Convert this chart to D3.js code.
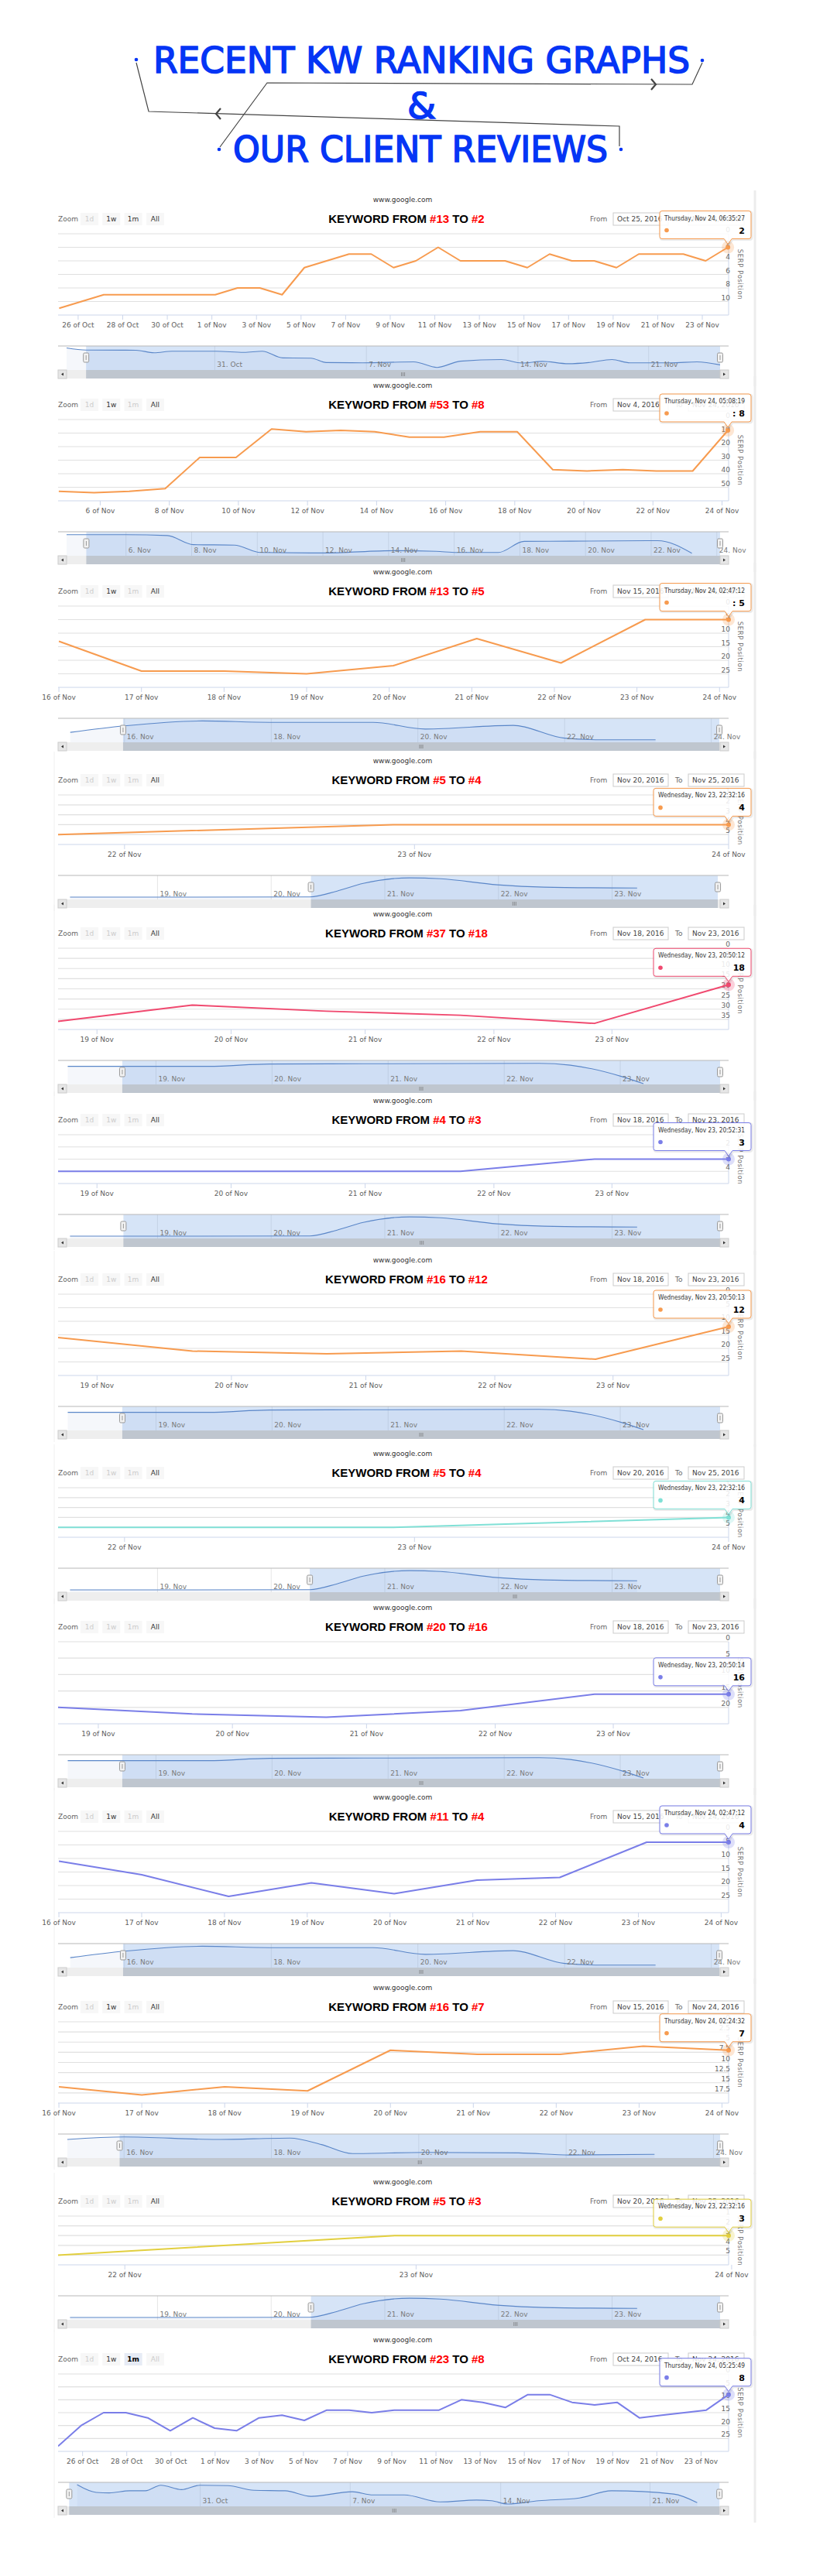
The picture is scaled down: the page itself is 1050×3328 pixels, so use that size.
<!DOCTYPE html>
<html>
<head>
<meta charset="utf-8">
<script src="https://cdn.jsdelivr.net/npm/d3@7"></script>
<style>
  body { margin: 0; background: #fff; }
  svg text { font-family: "DejaVu Sans", sans-serif; }
</style>
</head>
<body>
<div id="chart"></div>
<script>
// ---------------- data ----------------
// keyword rank moves shown in each panel title
var kwFrom = [13, 53, 13, 5, 37, 4, 16, 5, 20, 11, 16, 5, 23];
var kwTo   = [2, 8, 5, 4, 18, 3, 12, 4, 16, 4, 7, 3, 8];

// x values are "day of November" (31 Oct = 0, 25 Oct = -6)
var p1Days  = [-5.85,-4.85,-3.85,-2.85,-1.85,-0.85,0.15,1.15,2.15,3.15,4.15,5.15,6.15,7.15,8.15,9.15,10.15,11.15,12.15,13.15,14.15,15.15,16.15,17.15,18.15,19.15,20.15,21.15,22.15,23.15,24.15];
var p1Ranks = [11,10,9,9,9,9,9,9,8,8,9,5,4,3,3,5,4,2,4,4,4,5,3,4,4,5,3,3,3,4,2];
var p2Days  = [4.8,5.82,6.84,7.88,8.88,9.93,10.96,11.96,12.96,13.95,14.95,15.95,17.0,18.07,19.1,20.09,21.13,22.1,23.15,24.17];
var p2Ranks = [53,54,53,51,28,28,7,9,8,9,13,13,9,9,37,38,37,38,38,8];
var p3Days  = [16.0,17.0,18.0,19.0,20.05,21.06,22.08,23.1,24.11];
var p3Ranks = [13,24,24,25,22,12,21,5,5];
var p4Days  = [21.78,22.89,24.0];
var p4Ranks = [5,4,4];
var p5Days  = [18.71,19.71,20.71,21.71,22.71,23.71];
var p5Ranks = [36,28,31,33,37,18];
var p6Days  = [18.71,19.71,20.71,21.71,22.71,23.71];
var p6Ranks = [4,4,4,4,3,3];
var p7Days  = [18.71,19.71,20.71,21.71,22.71,23.7];
var p7Ranks = [16,21,22,21,24,12];
var p8Days  = [21.78,22.89,24.0];
var p8Ranks = [5,5,4];
var p9Days  = [18.7,19.7,20.7,21.7,22.7,23.7];
var p9Ranks = [20,22,23,21,16,16];
var p10Days  = [16.0,17.0,18.05,19.05,20.05,21.05,22.05,23.1,24.09];
var p10Ranks = [11,16,24,19,23,18,17,4,4];
var p11Days  = [16.0,17.0,18.0,19.0,20.0,21.05,22.05,23.05,24.08];
var p11Ranks = [16,18,16,17,7,8,8,6,7];
var p12Days  = [21.78,22.89,23.99];
var p12Ranks = [5,3,3];
var p13Days  = [-6.11,-5.07,-4.05,-3.04,-2.05,-1.03,-0.01,0.98,1.97,2.99,4.03,5.04,6.06,7.07,8.09,9.11,10.12,11.14,12.15,13.12,14.14,15.16,16.15,17.16,18.18,19.2,20.21,21.23,22.24,23.24,24.25];
var p13Ranks = [28,20,15,15,17,22,17,21,22,17,16,18,14,14,15,14,14,14,10,11,13,8,8,11,12,11,17,16,15,14,8];

// visible x range of each main plot (days)
var xDomains = [[-5.9,24.18],[4.78,24.19],[15.99,24.11],[21.78,24.0],[18.71,23.71],[18.71,23.71],[18.71,23.7],[21.78,24.0],[18.7,23.7],[15.99,24.09],[15.99,24.08],[21.78,23.99],[-6.11,24.25]];
// y axis (SERP position, reversed)
var yMins  = [0,0,0,1,0,1,0,1,0,0,0,1,0];
var yMaxs  = [12,60,30,6,40,5,30,6,25,30,20,6,30];
var ySteps = [2,10,5,1,5,1,5,1,5,5,2.5,1,5];

// x axis tick labels
var tickOctNov = [-5,-3,-1,1,3,5,7,9,11,13,15,17,19,21,23];
var labOctNov  = ["26 of Oct","28 of Oct","30 of Oct","1 of Nov","3 of Nov","5 of Nov","7 of Nov","9 of Nov","11 of Nov","13 of Nov","15 of Nov","17 of Nov","19 of Nov","21 of Nov","23 of Nov"];
var tickNov6   = [6,8,10,12,14,16,18,20,22,24];
var labNov6    = ["6 of Nov","8 of Nov","10 of Nov","12 of Nov","14 of Nov","16 of Nov","18 of Nov","20 of Nov","22 of Nov","24 of Nov"];
var tickNov16  = [16,17,18,19,20,21,22,23,24];
var labNov16   = ["16 of Nov","17 of Nov","18 of Nov","19 of Nov","20 of Nov","21 of Nov","22 of Nov","23 of Nov","24 of Nov"];
var tickNov19  = [19,20,21,21.96,22.84];
var labNov19   = ["19 of Nov","20 of Nov","21 of Nov","22 of Nov","23 of Nov"];
var tickNov22  = [22,22.96,24];
var labNov22   = ["22 of Nov","23 of Nov","24 of Nov"];

// navigator series (relative height 0-10 inside the navigator)
var navP1Days = [-6.84,-5.94,-3.63,-2.8,-1.97,0.05,1.35,2.19,3.14,4.44,5.15,6.82,9.19,10.26,11.33,13.23,14.18,15.13,16.32,17.27,18.34,19.17,21.07,22.26,23.33];
var navP1Vals = [9.5,8.6,8.5,7.4,8.1,8.1,7.6,8.1,5.2,5.1,3.2,3.1,3.5,1.1,3.8,4.5,3.0,3.7,2.7,3.2,4.5,3.1,3.1,3.5,2.2];
var navP2Days = [4.19,6,7.26,8.05,9.3,10.1,12,14.2,15.45,16.08,17.34,18.13,19.54,22.2,23.24];
var navP2Vals = [9.1,9.1,8.7,4.8,4.6,1.4,1.2,2.2,1.9,1.4,1.4,6.2,6.3,6.5,1.1];
var navADays = [18.23,19.0,20.34,20.58,20.81,21.22,21.49,21.99,22.4,23.22];
var navAVals = [1.0,1.0,1.1,3.6,6.9,9.3,8.9,6.3,5.3,4.9];
var navBDays = [18.24,19.45,19.98,20.79,22.3,22.57,23.02,23.2];
var navBVals = [7.8,7.8,8.8,8.9,9.1,8.3,3.3,0.3];
var navCDays = [15.26,16.0,17.06,17.98,19.39,20.1,21.3,22.0,22.5,23.24];
var navCVals = [4.3,7.1,9.2,8.6,8.6,5.7,7.3,1.8,1.1,1.1];
var navDDays = [15.23,16.0,17.27,18.25,18.68,19.1,20.08,21.35,22.05,23.2];
var navDVals = [8.0,9.1,8.0,8.6,5.8,1.9,2.4,2.2,1.3,1.6];
var navP13Days = [-5.75,-4.86,-4.25,-3.29,-2.56,-1.84,-0.87,-0.02,1.3,2.51,3.96,5.17,7.1,8.07,9.52,11.2,12.9,13.6,14.35,15.8,17.7,19.2,22.1,23.2];
var navP13Vals = [9.3,6.0,5.8,6.7,6.7,9.1,7.2,9.1,8.9,6.9,6.7,4.3,6.3,4.9,4.9,1.9,2.7,2.4,1.0,2.4,3.6,6.7,5.3,1.6];

var navDomains = [[-6.84,23.33],[4.19,24.1],[15.21,24.12],[18.2,23.95],[18.23,23.86],[18.2,23.95],[18.23,23.86],[18.2,23.95],[18.23,23.86],[15.21,24.12],[15.22,24.09],[18.2,23.95],[-6.24,24.27]];
var navSelections = [[-5.94,23.33],[4.79,24.1],[15.98,24.11],[20.35,23.93],[18.71,23.86],[18.7,23.95],[18.71,23.86],[20.34,23.95],[18.71,23.86],[15.98,24.11],[15.94,24.09],[20.35,23.95],[-6.12,24.24]];
var navTickP1 = [0,7,14,20.03],  navLabP1 = ["31. Oct","7. Nov","14. Nov","21. Nov"];
var navTickP2 = [6,8,10,12,14,16,18,20,22,24], navLabP2 = ["6. Nov","8. Nov","10. Nov","12. Nov","14. Nov","16. Nov","18. Nov","20. Nov","22. Nov","24. Nov"];
var navTick19 = [19,20,21,22,23], navLab19 = ["19. Nov","20. Nov","21. Nov","22. Nov","23. Nov"];
var navTick16 = [16,18,20,22,24], navLab16 = ["16. Nov","18. Nov","20. Nov","22. Nov","24. Nov"];
var navTickP13 = [0,7,14.03,21], navLabP13 = ["31. Oct","7. Nov","14. Nov","21. Nov"];

// range selector texts
var fromDates = ["Oct 25, 2016","Nov 4, 2016","Nov 15, 2016","Nov 20, 2016","Nov 18, 2016","Nov 18, 2016","Nov 18, 2016","Nov 20, 2016","Nov 18, 2016","Nov 15, 2016","Nov 15, 2016","Nov 20, 2016","Oct 24, 2016"];
var toDates   = ["Nov 24, 2016","Nov 24, 2016","Nov 24, 2016","Nov 25, 2016","Nov 23, 2016","Nov 23, 2016","Nov 23, 2016","Nov 25, 2016","Nov 23, 2016","Nov 24, 2016","Nov 24, 2016","Nov 25, 2016","Nov 24, 2016"];
var tipDates  = ["Thursday, Nov 24, 06:35:27","Thursday, Nov 24, 05:08:19","Thursday, Nov 24, 02:47:12","Wednesday, Nov 23, 22:32:16","Wednesday, Nov 23, 20:50:12","Wednesday, Nov 23, 20:52:31","Wednesday, Nov 23, 20:50:13","Wednesday, Nov 23, 22:32:16","Wednesday, Nov 23, 20:50:14","Thursday, Nov 24, 02:47:12","Thursday, Nov 24, 02:24:32","Wednesday, Nov 23, 22:32:16","Thursday, Nov 24, 05:25:49"];
var tipColon  = ["", ": ", ": ", "", "", "", "", "", "", "", "", "", ""];
var btnLabels = ["1d","1w","1m","All"];
// 0 = normal, 1 = disabled, 2 = selected
var btnStates = [[1,0,0,0],[1,0,1,0],[1,0,1,0],[1,1,1,0],[1,1,1,0],[1,1,1,0],[1,1,1,0],[1,1,1,0],[1,1,1,0],[1,0,1,0],[1,0,1,0],[1,1,1,0],[1,0,2,1]];

var orange = "#f79b4f", violet = "#7a7ee8";
var seriesColors = [orange, orange, orange, orange, "#f0496f", violet, orange, "#80e0d6", violet, violet, orange, "#e2cf3f", violet];

// ---------------- layout ----------------
var svgWidth = 1050, svgHeight = 3328;
var panelTop = [302, 542, 783, 1027, 1225, 1466, 1672, 1922, 2121, 2366, 2612, 2863, 3067];
var plotH    = [105, 105, 105, 64, 105, 63, 105, 64, 106, 105, 105, 63, 100];
var plotL = 75, plotR = 941;

// build the panel table from the arrays above
var allDays  = [p1Days,p2Days,p3Days,p4Days,p5Days,p6Days,p7Days,p8Days,p9Days,p10Days,p11Days,p12Days,p13Days];
var allRanks = [p1Ranks,p2Ranks,p3Ranks,p4Ranks,p5Ranks,p6Ranks,p7Ranks,p8Ranks,p9Ranks,p10Ranks,p11Ranks,p12Ranks,p13Ranks];
var allTicks = [tickOctNov,tickNov6,tickNov16,tickNov22,tickNov19,tickNov19,tickNov19,tickNov22,tickNov19,tickNov16,tickNov16,tickNov22,tickOctNov];
var allLabs  = [labOctNov,labNov6,labNov16,labNov22,labNov19,labNov19,labNov19,labNov22,labNov19,labNov16,labNov16,labNov22,labOctNov];
var allNavDays = [navP1Days,navP2Days,navCDays,navADays,navBDays,navADays,navBDays,navADays,navBDays,navCDays,navDDays,navADays,navP13Days];
var allNavVals = [navP1Vals,navP2Vals,navCVals,navAVals,navBVals,navAVals,navBVals,navAVals,navBVals,navCVals,navDVals,navAVals,navP13Vals];
var allNavTicks = [navTickP1,navTickP2,navTick16,navTick19,navTick19,navTick19,navTick19,navTick19,navTick19,navTick16,navTick16,navTick19,navTickP13];
var allNavLabs  = [navLabP1,navLabP2,navLab16,navLab19,navLab19,navLab19,navLab19,navLab19,navLab19,navLab16,navLab16,navLab19,navLabP13];

var panels = kwFrom.map(function(f, i) {
  return {
    from: f, to: kwTo[i], color: seriesColors[i],
    points: allDays[i].map(function(d, k) { return [d, allRanks[i][k]]; }),
    xDomain: xDomains[i], yMin: yMins[i], yMax: yMaxs[i], yStep: ySteps[i],
    ticks: allTicks[i], tickLabels: allLabs[i],
    nav: allNavDays[i].map(function(d, k) { return [d, allNavVals[i][k]]; }),
    navDomain: navDomains[i], navSel: navSelections[i],
    navTicks: allNavTicks[i], navLabels: allNavLabs[i],
    fromDate: fromDates[i], toDate: toDates[i], tip: tipDates[i], colon: tipColon[i],
    buttons: btnStates[i]
  };
});

// ---------------- svg ----------------
var svg = d3.select("#chart")
  .append("svg")
  .attr("width", svgWidth)
  .attr("height", svgHeight);

svg.append("rect")
  .attr("width", svgWidth)
  .attr("height", svgHeight)
  .attr("fill", "#ffffff");

// ---------------- header ----------------
var headBlue = "#0535f5";

function headText(txt, x, y, len) {
  svg.append("text")
    .attr("x", x)
    .attr("y", y)
    .attr("font-size", 46)
    .attr("fill", headBlue)
    .attr("stroke", headBlue)
    .attr("stroke-width", 1.6)
    .attr("textLength", len)
    .attr("lengthAdjust", "spacingAndGlyphs")
    .text(txt);
}
headText("RECENT KW RANKING GRAPHS", 198, 94, 693);
headText("&", 526, 153, 37);
headText("OUR CLIENT REVIEWS", 301, 209, 484);

svg.append("path")
  .attr("d", "M176,81 L192,144 L800,163 L800,189")
  .attr("fill", "none").attr("stroke", "#444").attr("stroke-width", 1.2);
svg.append("path")
  .attr("d", "M907,81 L894,109 L345,107 L284,190")
  .attr("fill", "none").attr("stroke", "#444").attr("stroke-width", 1.2);
// arrow heads
svg.append("path")
  .attr("d", "M841,102 L847,109 L841,116")
  .attr("fill", "none").attr("stroke", "#444").attr("stroke-width", 2.2);
svg.append("path")
  .attr("d", "M285,140 L279,147 L285,154")
  .attr("fill", "none").attr("stroke", "#444").attr("stroke-width", 2.2);

[[176,77],[907,78],[283,193],[802,193]].forEach(function(c) {
  svg.append("circle").attr("cx", c[0]).attr("cy", c[1]).attr("r", 2.3).attr("fill", headBlue);
});

// ---------------- one stock chart panel ----------------
function drawPanel(p, i) {
  var T = panelTop[i], H = plotH[i], B = T + H;
  var L = plotL, R = plotR;
  var g = svg.append("g");

  // frame of the screenshot
  g.append("line")
    .attr("x1", 975).attr("x2", 975)
    .attr("y1", T - 56).attr("y2", B + 92)
    .attr("stroke", "#ececec").attr("stroke-width", 3);
  if (i >= 3) {
    g.append("line")
      .attr("x1", 70).attr("x2", 70)
      .attr("y1", T - 56).attr("y2", B + 86)
      .attr("stroke", "#f0f0f0").attr("stroke-width", 1);
  }

  g.append("text")
    .attr("x", 520).attr("y", T - 41)
    .attr("text-anchor", "middle")
    .attr("font-size", 9).attr("fill", "#333")
    .text("www.google.com");

  // range selector buttons
  var rowY = T - 19;
  g.append("text")
    .attr("x", L).attr("y", rowY + 3)
    .attr("font-size", 9).attr("fill", "#666")
    .text("Zoom");
  btnLabels.forEach(function(b, k) {
    var bx = L + 29 + k * 28.3, st = p.buttons[k];
    g.append("rect")
      .attr("x", bx).attr("y", rowY - 8)
      .attr("width", 23).attr("height", 16)
      .attr("fill", st === 2 ? "#e6ebf5" : "#f7f7f7");
    g.append("text")
      .attr("x", bx + 11.5).attr("y", rowY + 3)
      .attr("text-anchor", "middle")
      .attr("font-size", 9)
      .attr("font-weight", st === 2 ? "bold" : "normal")
      .attr("fill", st === 1 ? "#cccccc" : (st === 2 ? "#000" : "#333"))
      .text(b);
  });

  // from / to inputs
  g.append("text").attr("x", 762).attr("y", rowY + 3)
    .attr("font-size", 9).attr("fill", "#666").text("From");
  g.append("rect").attr("x", 792).attr("y", rowY - 8)
    .attr("width", 71).attr("height", 16)
    .attr("fill", "#fff").attr("stroke", "#cccccc");
  g.append("text").attr("x", 797).attr("y", rowY + 3)
    .attr("font-size", 9).attr("fill", "#444").text(p.fromDate);
  g.append("text").attr("x", 872).attr("y", rowY + 3)
    .attr("font-size", 9).attr("fill", "#666").text("To");
  g.append("rect").attr("x", 889).attr("y", rowY - 8)
    .attr("width", 72).attr("height", 16)
    .attr("fill", "#fff").attr("stroke", "#cccccc");
  g.append("text").attr("x", 894).attr("y", rowY + 3)
    .attr("font-size", 9).attr("fill", "#444").text(p.toDate);

  // title
  var title = g.append("text")
    .attr("x", 525).attr("y", rowY + 5)
    .attr("text-anchor", "middle")
    .style("font-family", "'Liberation Sans', Arial, sans-serif")
    .attr("font-weight", "bold")
    .attr("font-size", 15)
    .attr("fill", "#000");
  title.append("tspan").text("KEYWORD FROM ");
  title.append("tspan").attr("fill", "#ff0000").text("#" + p.from);
  title.append("tspan").text(" TO ");
  title.append("tspan").attr("fill", "#ff0000").text("#" + p.to);

  // scales
  var x = d3.scaleLinear().domain(p.xDomain).range([L, R]);
  var y = d3.scaleLinear().domain([p.yMin, p.yMax]).range([T, B]);
  var yTicks = d3.range(p.yMin, p.yMax + 1e-9, p.yStep);

  // grid lines
  g.selectAll(".grid")
    .data(yTicks.slice(0, -1))
    .enter()
    .append("line")
    .attr("x1", L).attr("x2", R)
    .attr("y1", d => y(d)).attr("y2", d => y(d))
    .attr("stroke", "#e0e0e0").attr("stroke-width", 1.2);

  // axes lines
  g.append("line").attr("x1", L).attr("x2", R).attr("y1", B).attr("y2", B)
    .attr("stroke", "#ccd6eb");
  g.append("line").attr("x1", R).attr("x2", R).attr("y1", T).attr("y2", B)
    .attr("stroke", "#ccd6eb");

  // y labels on the right, sitting on the grid lines
  g.selectAll(".ylab")
    .data(yTicks.slice(0, -1))
    .enter()
    .append("text")
    .attr("x", R + 2)
    .attr("y", d => y(d) - 2)
    .attr("text-anchor", "end")
    .attr("font-size", 9)
    .attr("fill", "#666")
    .text(d => String(d));

  // x ticks and labels
  p.ticks.forEach(function(t, k) {
    g.append("line")
      .attr("x1", x(t)).attr("x2", x(t))
      .attr("y1", B).attr("y2", B + 6)
      .attr("stroke", "#ccd6eb");
    g.append("text")
      .attr("x", x(t)).attr("y", B + 16)
      .attr("text-anchor", "middle")
      .attr("font-size", 9)
      .attr("fill", "#606060")
      .text(p.tickLabels[k]);
  });

  // axis title
  g.append("text")
    .attr("transform", "translate(" + 953 + "," + ((T + B) / 2) + ") rotate(90)")
    .attr("text-anchor", "middle")
    .attr("font-size", 8.5)
    .attr("letter-spacing", 0.6)
    .attr("fill", "#777")
    .text("SERP Position");

  // series line
  var clipId = "clip" + i;
  svg.append("clipPath").attr("id", clipId)
    .append("rect")
    .attr("x", L).attr("y", T - 6)
    .attr("width", R - L + 1).attr("height", H + 6);

  var line = d3.line()
    .x(d => x(d[0]))
    .y(d => y(d[1]));

  g.append("path")
    .datum(p.points)
    .attr("clip-path", "url(#" + clipId + ")")
    .attr("d", line)
    .attr("fill", "none")
    .attr("stroke", p.color)
    .attr("stroke-width", 2)
    .attr("stroke-linejoin", "round");

  // hovered last point
  var last = p.points[p.points.length - 1];
  var px = x(last[0]), py = y(last[1]);
  g.append("circle").attr("cx", px).attr("cy", py).attr("r", 8)
    .attr("fill", p.color).attr("opacity", 0.25);
  g.append("circle").attr("cx", px).attr("cy", py).attr("r", 3)
    .attr("fill", p.color);

  // ---------- navigator ----------
  var nT = B + 40, nH = 31;
  var nx = d3.scaleLinear().domain(p.navDomain).range([L + 11, R - 11]);
  var ny = d3.scaleLinear().domain([0, 10]).range([nT + nH, nT + 1]);

  g.selectAll(".navgrid")
    .data(p.navTicks)
    .enter()
    .append("line")
    .attr("x1", d => nx(d)).attr("x2", d => nx(d))
    .attr("y1", nT).attr("y2", nT + nH)
    .attr("stroke", "#e6e6e6");

  var navArea = d3.area()
    .curve(d3.curveMonotoneX)
    .x(d => nx(d[0]))
    .y0(nT + nH)
    .y1(d => ny(d[1]));
  var navLine = d3.line()
    .curve(d3.curveMonotoneX)
    .x(d => nx(d[0]))
    .y(d => ny(d[1]));

  g.append("path").datum(p.nav).attr("d", navArea)
    .attr("fill", "#335cad").attr("opacity", 0.05);

  // selected range mask
  var s0 = nx(p.navSel[0]), s1 = nx(p.navSel[1]);
  g.append("rect")
    .attr("x", s0).attr("y", nT)
    .attr("width", s1 - s0).attr("height", nH)
    .attr("fill", "rgba(128,170,230,0.32)");

  g.append("path").datum(p.nav).attr("d", navLine)
    .attr("fill", "none").attr("stroke", "#5a86c8").attr("stroke-width", 1.1);

  g.selectAll(".navlab")
    .data(p.navTicks)
    .enter()
    .append("text")
    .attr("x", d => nx(d) + 3)
    .attr("y", nT + 27)
    .attr("font-size", 9)
    .attr("fill", "#7a7a7a")
    .text((d, k) => p.navLabels[k]);

  g.append("line").attr("x1", L).attr("x2", R).attr("y1", nT).attr("y2", nT)
    .attr("stroke", "#b8b8b8").attr("stroke-width", 1.2);

  // handles
  [s0, s1].forEach(function(hx) {
    g.append("rect")
      .attr("x", hx - 3.5).attr("y", nT + 9)
      .attr("width", 7).attr("height", 12).attr("rx", 1.5)
      .attr("fill", "#f2f2f2").attr("stroke", "#999");
    g.append("line")
      .attr("x1", hx).attr("x2", hx)
      .attr("y1", nT + 12).attr("y2", nT + 18)
      .attr("stroke", "#999");
  });

  // scrollbar
  var sY = nT + nH;
  g.append("rect").attr("x", L).attr("y", sY)
    .attr("width", R - L).attr("height", 11)
    .attr("fill", "#eeeeee");
  g.append("rect").attr("x", s0).attr("y", sY)
    .attr("width", s1 - s0).attr("height", 11)
    .attr("fill", "#bfc6cf");
  var mid = (s0 + s1) / 2;
  [-2, 0, 2].forEach(function(o) {
    g.append("line")
      .attr("x1", mid + o).attr("x2", mid + o)
      .attr("y1", sY + 3).attr("y2", sY + 8)
      .attr("stroke", "#666").attr("stroke-width", 0.6);
  });
  [[L, 1], [R - 11, -1]].forEach(function(b) {
    g.append("rect").attr("x", b[0]).attr("y", sY)
      .attr("width", 11).attr("height", 11)
      .attr("fill", "#e6e6e6").attr("stroke", "#cccccc");
    var cx = b[0] + 5.5, cy = sY + 5.5;
    g.append("path")
      .attr("d", "M" + (cx - 1.5 * b[1]) + "," + cy + " L" + (cx + 1.5 * b[1]) + "," + (cy - 2) + " L" + (cx + 1.5 * b[1]) + "," + (cy + 2) + " Z")
      .attr("fill", "#333");
  });

  // ---------- tooltip on top ----------
  var isThu = p.tip.indexOf("Thursday") === 0;
  var textW = isThu ? 104 : 112;
  var boxR = 970, boxL = boxR - textW - 14;
  var bb = py - 11, bt = bb - 36;
  var tipPath = "M" + (boxL + 3) + "," + bt +
    " H" + (boxR - 3) + " Q" + boxR + "," + bt + " " + boxR + "," + (bt + 3) +
    " V" + (bb - 3) + " Q" + boxR + "," + bb + " " + (boxR - 3) + "," + bb +
    " H" + (px + 5) + " L" + px + "," + (py - 4) + " L" + (px - 5) + "," + bb +
    " H" + (boxL + 3) + " Q" + boxL + "," + bb + " " + boxL + "," + (bb - 3) +
    " V" + (bt + 3) + " Q" + boxL + "," + bt + " " + (boxL + 3) + "," + bt + " Z";

  g.append("path")
    .attr("d", tipPath)
    .attr("transform", "translate(1,1)")
    .attr("fill", "none").attr("stroke", "#000").attr("stroke-opacity", 0.08).attr("stroke-width", 3);
  g.append("path")
    .attr("d", tipPath)
    .attr("fill", "rgba(255,255,255,0.86)")
    .attr("stroke", p.color).attr("stroke-width", 1);

  g.append("text")
    .attr("x", boxL + 6).attr("y", bt + 12)
    .attr("font-size", 8)
    .attr("fill", "#333")
    .attr("textLength", textW)
    .attr("lengthAdjust", "spacingAndGlyphs")
    .text(p.tip);
  g.append("circle")
    .attr("cx", boxL + 9).attr("cy", bt + 25).attr("r", 2.8)
    .attr("fill", p.color);
  g.append("text")
    .attr("x", boxR - 8).attr("y", bt + 29)
    .attr("text-anchor", "end")
    .attr("font-size", 11)
    .attr("font-weight", "bold")
    .attr("fill", "#000")
    .text(p.colon + last[1]);
}

panels.forEach(drawPanel);
</script>
</body>
</html>
